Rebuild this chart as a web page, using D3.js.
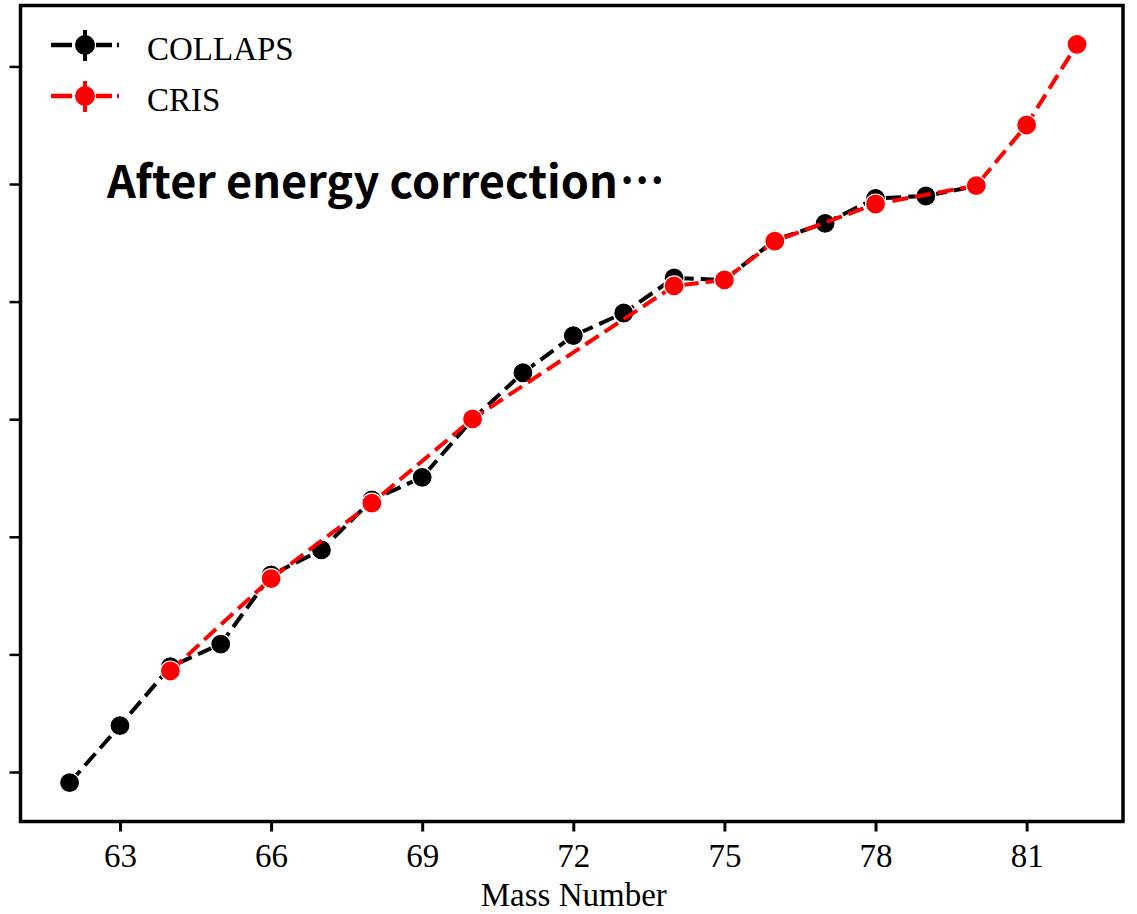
<!DOCTYPE html>
<html>
<head>
<meta charset="utf-8">
<script src="https://cdn.jsdelivr.net/npm/d3@7"></script>
<style>
  html, body { margin: 0; padding: 0; background: #fff; }
  svg { display: block; }
</style>
</head>
<body>
<svg id="chart" width="1137" height="914"></svg>
<script>
// ---- data ----
const collapsMass = [62,63,64,65,66,67,68,69,70,71,72,73,74,75,76,77,78,79,80];
const collapsVal  = [-0.091,0.394,0.895,1.088,1.675,1.888,2.313,2.506,3.0,3.395,3.710,3.903,4.201,4.184,4.524,4.666,4.878,4.898,4.983];
const crisMass = [64,66,68,70,74,75,76,78,80,81,82];
const crisVal  = [0.859,1.645,2.287,3.002,4.133,4.184,4.514,4.830,4.986,5.502,6.188];
const xTicks = [63,66,69,72,75,78,81];
const yTicks = [0,1,2,3,4,5,6];
const seriesNames = ["COLLAPS","CRIS"];
const seriesColors = ["#000000","#ff0000"];
const xLabel = "Mass Number";
const annotation = "After energy correction";
const annotationTail = "\u2026";

// ---- layout ----
const svg = d3.select("#chart");
const L = 20.5, R = 1123, T = 5.5, B = 821.5;
const x = d3.scaleLinear().domain([61.025, 82.913]).range([L, R]);
const y = d3.scaleLinear().domain([-0.421, 6.518]).range([B, T]);
const serif = "'Liberation Serif','Times New Roman',serif";

// axes
const xAxis = svg.append("g").attr("transform", `translate(0,${B})`)
  .call(d3.axisBottom(x).tickValues(xTicks).tickSize(10).tickPadding(12).tickFormat(d3.format("d")));
xAxis.select(".domain").remove();
xAxis.selectAll(".tick line").attr("stroke", "#000").attr("stroke-width", 3);
xAxis.selectAll(".tick text").attr("font-family", serif).attr("font-size", 33).attr("fill", "#000");

const yAxis = svg.append("g").attr("transform", `translate(${L},0)`)
  .call(d3.axisLeft(y).tickValues(yTicks).tickSize(11).tickFormat(""));
yAxis.select(".domain").remove();
yAxis.selectAll(".tick line").attr("stroke", "#000").attr("stroke-width", 2.5);

// frame
svg.append("rect").attr("x", L).attr("y", T).attr("width", R - L).attr("height", B - T)
  .attr("fill", "none").attr("stroke", "#000").attr("stroke-width", 3.5);

svg.append("text").attr("x", (L + R) / 2 + 2).attr("y", 906).attr("text-anchor", "middle")
  .attr("font-family", serif).attr("font-size", 33).text(xLabel);

// annotation
const ann = svg.append("text").attr("x", 107).attr("y", 198)
  .attr("font-family", "'Noto Sans CJK SC','Noto Sans',sans-serif").attr("font-weight", "bold")
  .attr("font-size", 45).attr("fill", "#000");
ann.append("tspan").text(annotation);
ann.append("tspan").attr("dx", 2).attr("dy", -15).attr("font-size", 40).text(annotationTail);

// series
const line = d3.line().x(d => x(d[0])).y(d => y(d[1]));
const series = [
  d3.zip(collapsMass, collapsVal),
  d3.zip(crisMass, crisVal)
];
series.forEach((data, i) => {
  const g = svg.append("g");
  g.append("path").datum(data).attr("d", line).attr("fill", "none")
    .attr("stroke", seriesColors[i]).attr("stroke-width", 4).attr("stroke-dasharray", "16,7");
  g.selectAll("circle").data(data).join("circle")
    .attr("cx", d => x(d[0])).attr("cy", d => y(d[1])).attr("r", 10)
    .attr("fill", seriesColors[i]).attr("stroke", "#fff").attr("stroke-width", 1.2);
});

// legend
const legY = [45, 96];
seriesNames.forEach((name, i) => {
  const g = svg.append("g");
  g.append("line").attr("x1", 51).attr("x2", 119).attr("y1", legY[i]).attr("y2", legY[i])
    .attr("stroke", seriesColors[i]).attr("stroke-width", 4.5).attr("stroke-dasharray", "21,24,16,5,3");
  g.append("line").attr("x1", 85).attr("x2", 85).attr("y1", legY[i] - 15).attr("y2", legY[i] + 16)
    .attr("stroke", seriesColors[i]).attr("stroke-width", 4);
  g.append("circle").attr("cx", 85).attr("cy", legY[i]).attr("r", 10).attr("fill", seriesColors[i]);
  g.append("text").attr("x", 147).attr("y", legY[i] + 15).attr("font-family", serif)
    .attr("font-size", 33).attr("fill", "#000").text(name);
});
</script>
</body>
</html>
